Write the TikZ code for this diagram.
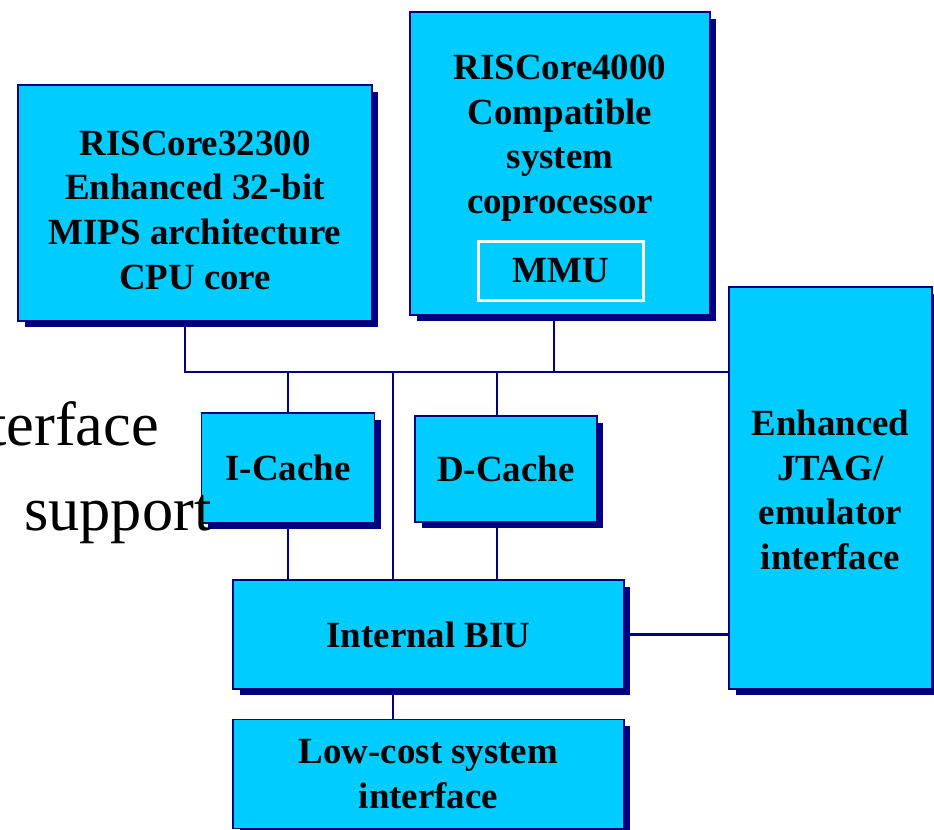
\documentclass[tikz,border=0pt]{standalone}
\usepackage{fontspec}
\setmainfont{Liberation Serif}
\usepackage{xcolor}
\usetikzlibrary{positioning, backgrounds, shadows}
\definecolor{navy}{HTML}{000080}
\definecolor{boxcyan}{HTML}{00CCFF}
\tikzset{
  % Blocchi del core
  block/.style={draw=navy,line width=0.8pt,fill=boxcyan,align=center,inner sep=0pt,
    font=\fontsize{21}{25.4}\selectfont\bfseries,
    drop shadow={shadow xshift=0.13cm,shadow yshift=-0.13cm,fill=navy,opacity=1}},
  block inner/.style={draw=white,line width=1.7pt,fill=boxcyan,inner sep=0pt,
    font=\fontsize{21}{25.4}\selectfont\bfseries},
  block text/.style={align=center,inner sep=0pt,font=\fontsize{21}{25.4}\selectfont\bfseries},
  % Collegamenti
  bus/.style={draw=navy,line width=1.6pt},
  slide text/.style={anchor=base west,inner sep=0pt,font=\fontsize{35.5}{40}\selectfont}
}
\begin{document}
\begin{tikzpicture}[x=0.02cm,y=-0.02cm]
  \useasboundingbox (0,0) rectangle (934,830);
  % blocchi
  \node[block,minimum width=7.08cm,minimum height=4.72cm] (cpu) at (195,203) {};
  \node[block text] (cpulbl) at (195,210)
    {RISCore32300\\Enhanced 32-bit\\MIPS architecture\\CPU core};
  \node[block,minimum width=6.0cm,minimum height=6.06cm] (cop) at (560,163.5) {};
  \node[block text] (coplbl) at (560,138)
    {RISCore4000\\Compatible\\system\\coprocessor};
  \node[block inner,minimum width=3.3cm,minimum height=1.18cm] (mmu) at (561,271) {MMU};
  \node[block,minimum width=4.06cm,minimum height=8.04cm] (jtag) at (830.5,488) {};
  \node[block text] (jtaglbl) at (830.5,490)
    {Enhanced\\JTAG/\\emulator\\interface};
  \node[block,minimum width=3.46cm,minimum height=2.2cm] (icache) at (288,468) {I-Cache};
  \node[block,minimum width=3.64cm,minimum height=2.12cm] (dcache) at (506,469) {D-Cache};
  \node[block,minimum width=7.82cm,minimum height=2.18cm] (biu) at (428.5,634.5) {Internal BIU};
  \node[block,minimum width=7.82cm,minimum height=2.18cm] (sysif) at (428.5,774)
    {Low-cost system\\interface};
  % punti del bus
  \coordinate (tapcpu) at (185,372);
  \coordinate (tapcop) at (554,372);
  \coordinate (tapmid) at (393,372);
  \coordinate (tapd) at (497,372);
  \begin{scope}[on background layer]
    \draw[bus] (cpu.south -| tapcpu) -- (tapcpu) -- (tapcpu -| jtag.west);
    \draw[bus] (cop.south -| tapcop) -- (tapcop);
    \draw[bus] (icache.north |- tapcpu) -- (icache.north);
    \draw[bus] (icache.south) -- (icache.south |- biu.north);
    \draw[bus] (tapmid) -- (tapmid |- biu.north);
    \draw[bus] (tapd) -- (tapd |- dcache.north);
    \draw[bus] (tapd |- dcache.south) -- (tapd |- biu.north);
    \draw[bus] (biu.east) -- (biu.east -| jtag.west);
    \draw[bus] (biu.south -| tapmid) -- (sysif.north -| tapmid);
  \end{scope}
  % testo della slide
  \node[slide text] (txtif) at (-11,446) {terface};
  \node[slide text] (txtsup) at (24,531) {support};
\end{tikzpicture}
\end{document}
